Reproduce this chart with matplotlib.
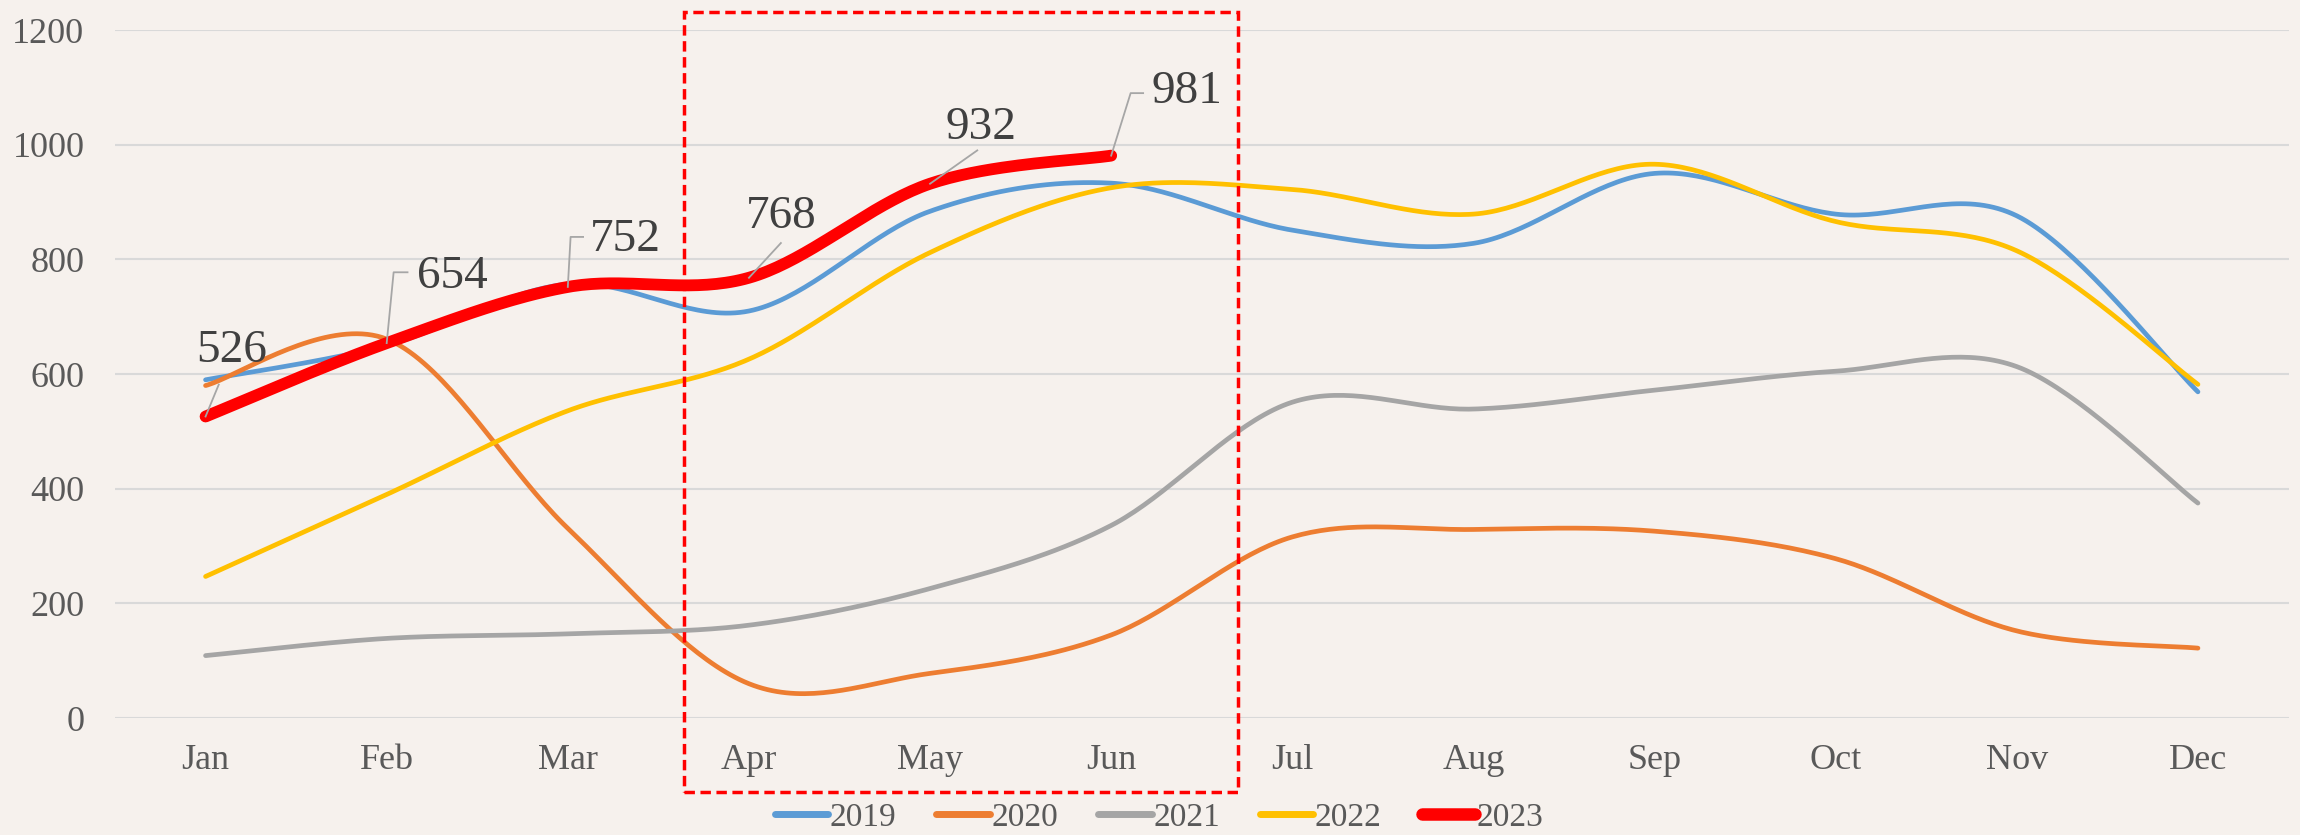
import numpy as np
import matplotlib.pyplot as plt
import matplotlib.transforms as mtransforms
from matplotlib.patches import Rectangle
from matplotlib.lines import Line2D

months = ['Jan', 'Feb', 'Mar', 'Apr', 'May', 'Jun', 'Jul', 'Aug', 'Sep', 'Oct', 'Nov', 'Dec']
years = ['2019', '2020', '2021', '2022', '2023']
v2019 = [590, 650, 757, 710, 884, 933, 851, 828, 950, 879, 876, 569]
v2020 = [580, 661, 331, 60, 78, 145, 316, 329, 326, 278, 152, 122]
v2021 = [109, 139, 147, 162, 226, 336, 551, 539, 572, 605, 613, 375]
v2022 = [247, 390, 536, 626, 812, 925, 922, 879, 966, 866, 815, 582]
v2023 = [526, 654, 752, 768, 932, 981]

colors = ['#5B9BD5', '#ED7D31', '#A5A5A5', '#FFC000', '#FF0000']
widths = [3.4, 3.4, 3.4, 3.4, 8.5]

BG = '#F6F1ED'
plt.rcParams['font.family'] = ['Liberation Serif', 'DejaVu Serif']


def smooth(ys, n=40):
    # Excel-like smoothed line: Bezier segments with Catmull-Rom control points
    xs = np.arange(len(ys), dtype=float)
    ys = np.asarray(ys, dtype=float)
    m = len(ys)
    ox, oy = [], []
    for i in range(m - 1):
        p0 = np.array([xs[max(i - 1, 0)], ys[max(i - 1, 0)]])
        p1 = np.array([xs[i], ys[i]])
        p2 = np.array([xs[i + 1], ys[i + 1]])
        p3 = np.array([xs[min(i + 2, m - 1)], ys[min(i + 2, m - 1)]])
        c1 = p1 + (p2 - p0) / 6
        c2 = p2 - (p3 - p1) / 6
        t = np.linspace(0, 1, n)[:, None]
        pts = ((1 - t) ** 3) * p1 + 3 * ((1 - t) ** 2) * t * c1 + 3 * (1 - t) * t ** 2 * c2 + t ** 3 * p2
        if i > 0:
            pts = pts[1:]
        ox.extend(pts[:, 0])
        oy.extend(pts[:, 1])
    return np.array(ox), np.array(oy)


fig = plt.figure(figsize=(23, 8.35), dpi=100, facecolor=BG)
ax = fig.add_axes([0.05, 0.14, 0.945, 0.824])
ax.set_facecolor(BG)

series = [v2019, v2020, v2021, v2022, v2023]
for vals, c, w, lab in zip(series, colors, widths, years):
    sx, sy = smooth(vals)
    ax.plot(sx, sy, color=c, lw=w, solid_capstyle='round', label=lab, zorder=3)

ax.set_xlim(-0.5, 11.5)
ax.set_ylim(0, 1200)
ax.set_xticks(range(12))
ax.set_xticklabels(months)
ax.set_yticks(range(0, 1201, 200))
ax.grid(axis='y', color='#D9D9D9', lw=1.5)
ax.set_axisbelow(True)
for s in ax.spines.values():
    s.set_visible(False)
ax.tick_params(length=0, labelsize=26, colors='#595959')
ax.tick_params(axis='y', pad=22)
ax.tick_params(axis='x', pad=19)

# data labels for 2023 with leader lines (offsets in points)
leader = [
    [(0, 0), (9.5, 23)],
    [(0, 0), (5, 51), (15, 51)],
    [(0, 0), (2, 36), (11, 36)],
    [(0, 0), (23, 25)],
    [(0, 0), (34, 24)],
    [(0, 0), (14, 45), (23, 45)],
]
label_pos = [(19, 47, 'center'), (22, 48, 'left'), (16, 34, 'left'),
             (23, 44, 'center'), (37, 40, 'center'), (29, 46, 'left')]
for i, v in enumerate(v2023):
    tr = fig.dpi_scale_trans + mtransforms.ScaledTranslation(i, v, ax.transData)
    pts = np.array(leader[i]) / 72.0
    ax.add_line(Line2D(pts[:, 0], pts[:, 1], transform=tr, color='#A6A6A6', lw=1.3, zorder=4))
    dx, dy, ha = label_pos[i]
    ax.annotate(str(v), xy=(i, v), xytext=(dx, dy), textcoords='offset points',
                ha=ha, va='center', fontsize=34, color='#404040', zorder=5)

# highlight box around Apr-Jun
rect = Rectangle((2.64, -129), 3.06, 1360, fill=False, ec='#FF0000', lw=2.5,
                 ls=(0, (3, 1.6)), clip_on=False, zorder=6)
ax.add_patch(rect)

handles = [Line2D([], [], color=c, lw=(9 if y == '2023' else 5), solid_capstyle='round')
           for c, y in zip(colors, years)]
fig.legend(handles, years, loc='center', bbox_to_anchor=(0.504, 0.021), ncol=5,
           frameon=False, fontsize=24, handlelength=1.6, handletextpad=0.05,
           columnspacing=1.2, labelcolor='#595959')

fig.savefig('out.png', dpi=100, facecolor=BG)
